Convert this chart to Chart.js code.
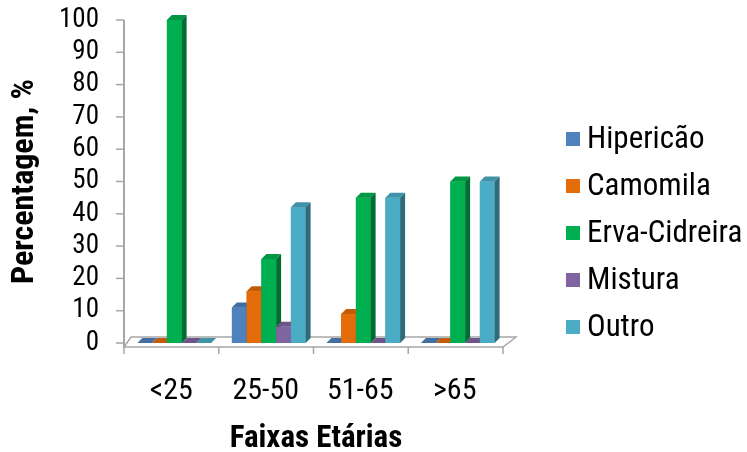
<!DOCTYPE html>
<html><head><meta charset="utf-8">
<script src="https://cdn.jsdelivr.net/npm/chart.js@4"></script>
<style>html,body{margin:0;padding:0;background:#fff;}</style>
</head><body>
<canvas id="c" width="747" height="452"></canvas>
<script>
const categories = ['<25', '25-50', '51-65', '>65'];
const seriesNames = ['Hipericão', 'Camomila', 'Erva-Cidreira', 'Mistura', 'Outro'];
const hipericao = [0, 11, 0, 0];
const camomila = [0, 16, 9, 0];
const ervaCidreira = [100, 26, 45, 50];
const mistura = [0, 5, 0, 0];
const outro = [0, 42, 45, 50];
const yTickValues = [0, 10, 20, 30, 40, 50, 60, 70, 80, 90, 100];
const xTitle = 'Faixas Etárias';
const yTitle = 'Percentagem, %';

const seriesValues = [hipericao, camomila, ervaCidreira, mistura, outro];
const colors = ['#4F81BD', '#E46C0A', '#00B050', '#8064A2', '#4BACC6'];
const FONT = '"Roboto Condensed", "DejaVu Sans Condensed", sans-serif';

function shade(hex, f) {
  const n = parseInt(hex.slice(1), 16);
  const r = Math.round(((n >> 16) & 255) * f), g = Math.round(((n >> 8) & 255) * f), b = Math.round((n & 255) * f);
  return `rgb(${r},${g},${b})`;
}

const DX = 5, DY = 5;

const threeD = {
  id: 'threeD',
  beforeDatasetsDraw(chart) {
    const {ctx, chartArea, scales} = chart;
    const L = chartArea.left - 3, R = chartArea.right - 2, base = chartArea.bottom;
    ctx.save();
    ctx.beginPath();
    ctx.moveTo(L, base + 4);
    ctx.lineTo(R, base + 4);
    ctx.lineTo(R + 13, base - 6);
    ctx.lineTo(L + 7, base - 6);
    ctx.closePath();
    ctx.fillStyle = '#ffffff';
    ctx.fill();
    ctx.strokeStyle = '#a6a6a6';
    ctx.lineWidth = 1.5;
    ctx.stroke();
    ctx.beginPath();
    ctx.moveTo(L, scales.y.getPixelForValue(100));
    ctx.lineTo(L, base + 4);
    ctx.lineWidth = 2;
    ctx.stroke();
    ctx.lineWidth = 1.5;
    yTickValues.forEach(v => {
      const y = scales.y.getPixelForValue(v);
      ctx.beginPath();
      ctx.moveTo(L - 8, y);
      ctx.lineTo(L, y);
      ctx.stroke();
    });
    const n = categories.length;
    for (let i = 0; i <= n; i++) {
      const x = L + (R - L) * i / n;
      ctx.beginPath();
      ctx.moveTo(x, base + 4);
      ctx.lineTo(x, base + 11);
      ctx.stroke();
    }
    ctx.restore();
  },
  afterDatasetsDraw(chart) {
    const {ctx} = chart;
    ctx.save();
    for (let c = 0; c < categories.length; c++) {
      chart.data.datasets.forEach((ds, di) => {
        const el = chart.getDatasetMeta(di).data[c];
        if (!el) return;
        const {x, y, base, width} = el.getProps(['x', 'y', 'base', 'width'], true);
        const l = x - width / 2, r = x + width / 2;
        const col = colors[di];
        ctx.fillStyle = col;
        ctx.fillRect(l, y, width, base - y);
        ctx.beginPath();
        ctx.moveTo(l, y); ctx.lineTo(l + DX, y - DY); ctx.lineTo(r + DX, y - DY); ctx.lineTo(r, y); ctx.closePath();
        ctx.fillStyle = shade(col, 0.85);
        ctx.fill();
        if (base - y > 0.5) {
          ctx.beginPath();
          ctx.moveTo(r, y); ctx.lineTo(r + DX, y - DY); ctx.lineTo(r + DX, base - DY); ctx.lineTo(r, base); ctx.closePath();
          ctx.fillStyle = shade(col, 0.62);
          ctx.fill();
        }
      });
    }
    ctx.restore();
  },
  afterDraw(chart) {
    const {ctx} = chart;
    ctx.save();
    ctx.font = '31px ' + FONT;
    ctx.textBaseline = 'middle';
    ctx.textAlign = 'left';
    chart.data.datasets.forEach((ds, i) => {
      const cy = 139 + i * 47;
      ctx.fillStyle = colors[i];
      ctx.fillRect(566, cy - 7, 14, 14);
      ctx.fillStyle = '#000';
      ctx.fillText(ds.label, 587, cy + 1);
    });
    ctx.restore();
  }
};

new Chart(document.getElementById('c'), {
  type: 'bar',
  data: {
    labels: categories,
    datasets: seriesNames.map((name, i) => ({
      label: name,
      data: seriesValues[i],
      backgroundColor: colors[i],
      borderWidth: 0,
      categoryPercentage: 0.78,
      barPercentage: 1.0
    }))
  },
  options: {
    responsive: false,
    animation: false,
    layout: {padding: {top: 20, right: 242, bottom: 0, left: 0}},
    plugins: {legend: {display: false}, tooltip: {enabled: false}},
    scales: {
      x: {
        grid: {display: false, drawTicks: false},
        border: {display: false},
        ticks: {font: {family: FONT, size: 30}, color: '#000', padding: 30, labelOffset: -3, autoSkip: false, maxRotation: 0},
        title: {display: true, text: xTitle, font: {family: FONT, size: 31, weight: 'bold'}, color: '#000', padding: {top: 0, bottom: -6}},
        afterFit(s) { s.height = 109; s.paddingLeft = 0; s.paddingRight = 0; }
      },
      y: {
        min: 0, max: 100,
        grid: {display: false, drawTicks: false},
        border: {display: false},
        afterBuildTicks(s) { s.ticks = yTickValues.map(v => ({value: v})); },
        ticks: {font: {family: FONT, size: 27}, color: '#000', padding: 28, autoSkip: false},
        title: {display: true, text: yTitle, font: {family: FONT, size: 32, weight: 'bold'}, color: '#000', padding: {top: 6, bottom: 0}},
        afterFit(s) { s.width = 127; s.paddingTop = 0; s.paddingBottom = 0; }
      }
    }
  },
  plugins: [threeD]
});
</script>
</body></html>
